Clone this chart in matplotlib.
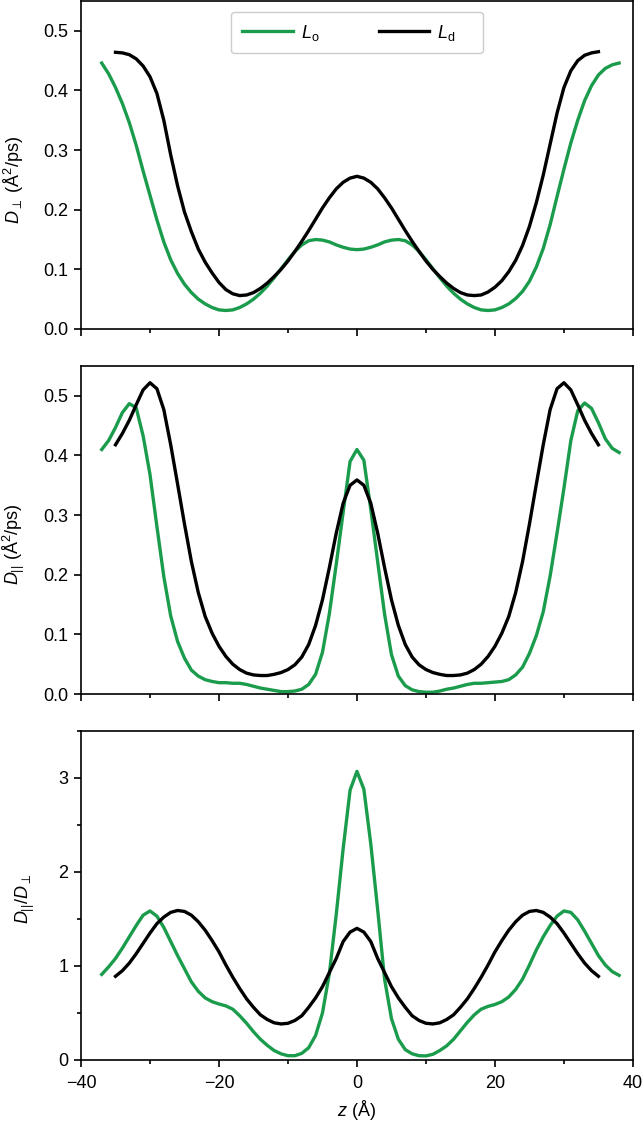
import matplotlib
matplotlib.use("Agg")
import matplotlib.pyplot as plt
from matplotlib.ticker import MultipleLocator

plt.rcParams['font.family'] = ['Liberation Sans', 'DejaVu Sans']
plt.rcParams['mathtext.fontset'] = 'custom'
plt.rcParams['mathtext.rm'] = 'Liberation Sans'
plt.rcParams['mathtext.it'] = 'Liberation Sans:italic'
plt.rcParams['font.size'] = 13

# z positions (Angstrom)
z_lo = list(range(-37, 39))
z_ld = list(range(-35, 36))

# D_perp (A^2/ps)
perp_lo = [0.446, 0.428, 0.405, 0.378, 0.346, 0.308, 0.265, 0.224, 0.183, 0.146,
           0.116, 0.093, 0.075, 0.061, 0.050, 0.042, 0.036, 0.032, 0.031, 0.032,
           0.036, 0.042, 0.050, 0.060, 0.072, 0.086, 0.101, 0.116, 0.130, 0.141,
           0.148, 0.150, 0.149, 0.146, 0.141, 0.137, 0.134, 0.133, 0.134, 0.137,
           0.141, 0.146, 0.149, 0.150, 0.148, 0.141, 0.130, 0.116, 0.101, 0.086,
           0.072, 0.060, 0.050, 0.042, 0.036, 0.032, 0.031, 0.032, 0.036, 0.042,
           0.051, 0.063, 0.080, 0.104, 0.135, 0.175, 0.222, 0.268, 0.312, 0.350,
           0.383, 0.408, 0.426, 0.437, 0.443, 0.446]
perp_ld = [0.464, 0.463, 0.460, 0.453, 0.441, 0.423, 0.395, 0.350, 0.292, 0.240,
           0.196, 0.163, 0.134, 0.112, 0.094, 0.078, 0.066, 0.059, 0.056, 0.057,
           0.061, 0.068, 0.077, 0.088, 0.100, 0.114, 0.130, 0.147, 0.165, 0.184,
           0.203, 0.220, 0.235, 0.246, 0.253, 0.256, 0.253, 0.246, 0.235, 0.220,
           0.203, 0.184, 0.165, 0.147, 0.130, 0.114, 0.100, 0.088, 0.077, 0.068,
           0.061, 0.057, 0.056, 0.057, 0.062, 0.070, 0.081, 0.096, 0.115, 0.140,
           0.172, 0.212, 0.258, 0.310, 0.362, 0.405, 0.433, 0.450, 0.459, 0.463,
           0.465]

# D_parallel (A^2/ps)
par_lo = [0.410, 0.425, 0.447, 0.472, 0.487, 0.480, 0.433, 0.368, 0.281, 0.197,
          0.131, 0.088, 0.060, 0.040, 0.030, 0.024, 0.021, 0.019, 0.019, 0.018,
          0.018, 0.016, 0.013, 0.010, 0.008, 0.006, 0.004, 0.004, 0.005, 0.008,
          0.016, 0.033, 0.070, 0.135, 0.218, 0.305, 0.390, 0.410, 0.392, 0.310,
          0.222, 0.134, 0.066, 0.030, 0.014, 0.007, 0.004, 0.003, 0.003, 0.005,
          0.008, 0.010, 0.013, 0.016, 0.018, 0.018, 0.019, 0.020, 0.021, 0.024,
          0.032, 0.045, 0.068, 0.098, 0.138, 0.198, 0.270, 0.345, 0.425, 0.475,
          0.488, 0.479, 0.455, 0.428, 0.412, 0.405]
par_ld = [0.418, 0.437, 0.459, 0.485, 0.510, 0.522, 0.512, 0.477, 0.418, 0.352,
          0.285, 0.222, 0.170, 0.130, 0.102, 0.080, 0.063, 0.050, 0.041, 0.035,
          0.032, 0.031, 0.031, 0.033, 0.036, 0.041, 0.049, 0.062, 0.083, 0.115,
          0.158, 0.212, 0.270, 0.320, 0.350, 0.359, 0.350, 0.320, 0.270, 0.212,
          0.158, 0.115, 0.083, 0.062, 0.049, 0.041, 0.036, 0.033, 0.031, 0.031,
          0.032, 0.035, 0.041, 0.050, 0.063, 0.080, 0.102, 0.130, 0.170, 0.222,
          0.285, 0.352, 0.418, 0.477, 0.512, 0.522, 0.510, 0.485, 0.459, 0.437,
          0.418]

# ratio D_par / D_perp
ratio_lo = [0.91, 0.99, 1.08, 1.19, 1.31, 1.43, 1.54, 1.585, 1.53, 1.41,
            1.26, 1.11, 0.97, 0.83, 0.73, 0.66, 0.62, 0.595, 0.575, 0.54,
            0.47, 0.39, 0.30, 0.22, 0.155, 0.10, 0.065, 0.045, 0.045, 0.07,
            0.13, 0.26, 0.50, 0.92, 1.55, 2.25, 2.87, 3.07, 2.88, 2.30,
            1.60, 0.86, 0.44, 0.22, 0.11, 0.065, 0.045, 0.043, 0.06, 0.10,
            0.15, 0.22, 0.31, 0.40, 0.48, 0.54, 0.57, 0.59, 0.62, 0.67,
            0.75, 0.86, 1.01, 1.17, 1.31, 1.43, 1.53, 1.585, 1.57, 1.49,
            1.37, 1.24, 1.11, 1.01, 0.94, 0.90]
ratio_ld = [0.89, 0.95, 1.03, 1.13, 1.24, 1.35, 1.45, 1.52, 1.57, 1.59,
            1.58, 1.54, 1.47, 1.38, 1.27, 1.15, 1.01, 0.88, 0.76, 0.65,
            0.56, 0.48, 0.43, 0.395, 0.383, 0.39, 0.42, 0.47, 0.56, 0.66,
            0.78, 0.93, 1.08, 1.26, 1.36, 1.40, 1.36, 1.26, 1.08, 0.93,
            0.78, 0.66, 0.56, 0.47, 0.42, 0.39, 0.383, 0.395, 0.43, 0.48,
            0.56, 0.65, 0.76, 0.88, 1.01, 1.15, 1.27, 1.38, 1.47, 1.54,
            1.58, 1.59, 1.57, 1.52, 1.45, 1.35, 1.24, 1.13, 1.03, 0.95,
            0.89]

green = '#1a9c4c'
lw = 2.4

fig = plt.figure(figsize=(6.44, 11.27), dpi=100)
ax1 = fig.add_axes([0.1258, 0.7081, 0.857, 0.2910])
ax2 = fig.add_axes([0.1258, 0.3842, 0.857, 0.2910])
ax3 = fig.add_axes([0.1258, 0.0595, 0.857, 0.2919])

ax1.plot(z_lo, perp_lo, color=green, lw=lw, label='$L_\\mathrm{o}$    ')
ax1.plot(z_ld, perp_ld, color='black', lw=lw, label='$L_\\mathrm{d}$    ')
ax2.plot(z_lo, par_lo, color=green, lw=lw)
ax2.plot(z_ld, par_ld, color='black', lw=lw)
ax3.plot(z_lo, ratio_lo, color=green, lw=lw)
ax3.plot(z_ld, ratio_ld, color='black', lw=lw)

for ax in (ax1, ax2, ax3):
    ax.set_xlim(-40, 40)
    ax.xaxis.set_major_locator(MultipleLocator(20))
    ax.xaxis.set_minor_locator(MultipleLocator(10))
    ax.tick_params(which='major', length=5, width=1.2, direction='out',
                   labelsize=13, pad=4)
    ax.tick_params(axis='x', which='major', pad=6)
    ax.tick_params(which='minor', length=3, width=1.2, direction='out')
    for s in ax.spines.values():
        s.set_linewidth(1.2)

ax1.set_ylim(0, 0.55)
ax1.set_yticks([0.0, 0.1, 0.2, 0.3, 0.4, 0.5])
ax1.set_yticklabels(['0.0', '0.1', '0.2', '0.3', '0.4', '0.5'])
ax1.set_xticklabels([])
ax1.set_ylabel('$D_{\\perp}$ (Å$^2$/ps)', fontsize=13)
ax1.yaxis.set_label_coords(-0.100, 0.454)

ax2.set_ylim(0, 0.55)
ax2.set_yticks([0.0, 0.1, 0.2, 0.3, 0.4, 0.5])
ax2.set_yticklabels(['0.0', '0.1', '0.2', '0.3', '0.4', '0.5'])
ax2.set_xticklabels([])
ax2.set_ylabel('$D_{||}$ (Å$^2$/ps)', fontsize=13)
ax2.yaxis.set_label_coords(-0.097, 0.457)

ax3.set_ylim(0, 3.5)
ax3.yaxis.set_major_locator(MultipleLocator(1))
ax3.yaxis.set_minor_locator(MultipleLocator(0.5))
ax3.set_xticks([-40, -20, 0, 20, 40])
ax3.set_xticklabels(['\u221240', '\u221220', '0', '20', '40'])
ax3.set_ylabel('$D_{||}/D_{\\perp}$', fontsize=13)
ax3.yaxis.set_label_coords(-0.080, 0.49)
ax3.set_xlabel('$z$ (Å)', fontsize=13)
ax3.xaxis.set_label_coords(0.5, -0.115)

ax1.legend(loc='upper center', ncol=2, fontsize=13, handlelength=2.8,
           handletextpad=0.45, columnspacing=2.4, borderpad=0.6,
           framealpha=1, edgecolor='#cccccc', bbox_to_anchor=(0.5, 0.995))

fig.savefig('out.png', dpi=100)
